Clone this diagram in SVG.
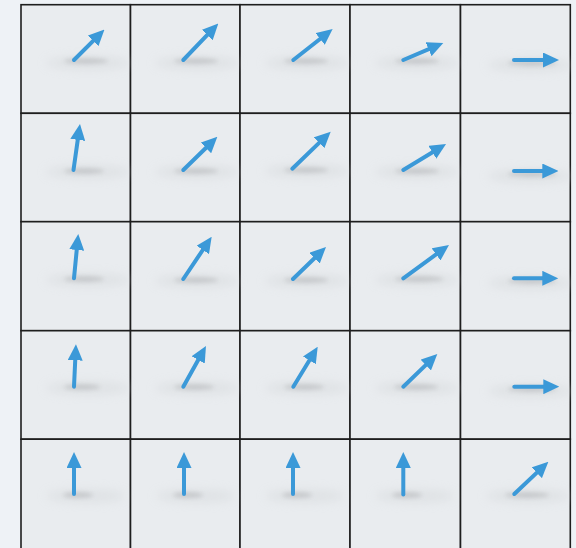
<svg xmlns="http://www.w3.org/2000/svg" width="576" height="548" viewBox="0 0 576 548">
<defs>
<style>
.cell{fill:#e9ecef;stroke:#1e1e1e;stroke-width:1.6}
.arr{stroke:#3b99d8;stroke-width:4;stroke-linecap:round;fill:none;marker-end:url(#head)}
.sh{fill:#a9abad;opacity:0.45;filter:url(#blur)}
.sh2{fill:#d6d9dc;opacity:0.5;filter:url(#blur2)}
</style>
<marker id="head" markerUnits="userSpaceOnUse" markerWidth="16" markerHeight="15" viewBox="0 0 16 15" refX="6" refY="7.5" orient="auto">
<path d="M0,0 L16,7.5 L0,15 z" fill="#3b99d8"/>
</marker>
<filter id="blur" x="-50%" y="-200%" width="200%" height="500%"><feGaussianBlur stdDeviation="2"/></filter>
<filter id="blur2" x="-50%" y="-200%" width="200%" height="500%"><feGaussianBlur stdDeviation="5"/></filter>
</defs>
<rect x="0" y="0" width="576" height="548" fill="#eef2f6"/>
<g id="grid">
<rect class="cell" x="21" y="4.7" width="109.5" height="108.6"/>
<rect class="cell" x="130.5" y="4.7" width="109.5" height="108.6"/>
<rect class="cell" x="240" y="4.7" width="110" height="108.6"/>
<rect class="cell" x="350" y="4.7" width="110.5" height="108.6"/>
<rect class="cell" x="460.5" y="4.7" width="109.8" height="108.6"/>
<rect class="cell" x="21" y="113.3" width="109.5" height="108.4"/>
<rect class="cell" x="130.5" y="113.3" width="109.5" height="108.4"/>
<rect class="cell" x="240" y="113.3" width="110" height="108.4"/>
<rect class="cell" x="350" y="113.3" width="110.5" height="108.4"/>
<rect class="cell" x="460.5" y="113.3" width="109.8" height="108.4"/>
<rect class="cell" x="21" y="221.7" width="109.5" height="109"/>
<rect class="cell" x="130.5" y="221.7" width="109.5" height="109"/>
<rect class="cell" x="240" y="221.7" width="110" height="109"/>
<rect class="cell" x="350" y="221.7" width="110.5" height="109"/>
<rect class="cell" x="460.5" y="221.7" width="109.8" height="109"/>
<rect class="cell" x="21" y="330.7" width="109.5" height="108.5"/>
<rect class="cell" x="130.5" y="330.7" width="109.5" height="108.5"/>
<rect class="cell" x="240" y="330.7" width="110" height="108.5"/>
<rect class="cell" x="350" y="330.7" width="110.5" height="108.5"/>
<rect class="cell" x="460.5" y="330.7" width="109.8" height="108.5"/>
<rect class="cell" x="21" y="439.2" width="109.5" height="110"/>
<rect class="cell" x="130.5" y="439.2" width="109.5" height="110"/>
<rect class="cell" x="240" y="439.2" width="110" height="110"/>
<rect class="cell" x="350" y="439.2" width="110.5" height="110"/>
<rect class="cell" x="460.5" y="439.2" width="109.8" height="110"/>
</g>
<g id="shadows">
<ellipse class="sh2" cx="88" cy="63" rx="42" ry="7"/><ellipse class="sh" cx="86" cy="61" rx="22" ry="3"/>
<ellipse class="sh2" cx="197" cy="63" rx="42" ry="7"/><ellipse class="sh" cx="196" cy="61" rx="22" ry="3"/>
<ellipse class="sh2" cx="307" cy="63" rx="42" ry="7"/><ellipse class="sh" cx="306" cy="61" rx="22" ry="3"/>
<ellipse class="sh2" cx="417" cy="63" rx="42" ry="7"/><ellipse class="sh" cx="417" cy="61" rx="22" ry="3"/>
<ellipse class="sh2" cx="530" cy="65" rx="42" ry="7"/><ellipse class="sh" cx="532" cy="63" rx="24" ry="3"/>
<ellipse class="sh2" cx="88" cy="172" rx="42" ry="7"/><ellipse class="sh" cx="84" cy="171" rx="20" ry="3"/>
<ellipse class="sh2" cx="197" cy="172" rx="42" ry="7"/><ellipse class="sh" cx="196" cy="171" rx="22" ry="3"/>
<ellipse class="sh2" cx="307" cy="171" rx="42" ry="7"/><ellipse class="sh" cx="306" cy="170" rx="22" ry="3"/>
<ellipse class="sh2" cx="417" cy="172" rx="42" ry="7"/><ellipse class="sh" cx="417" cy="171" rx="22" ry="3"/>
<ellipse class="sh2" cx="530" cy="176" rx="42" ry="7"/><ellipse class="sh" cx="532" cy="174" rx="24" ry="3"/>
<ellipse class="sh2" cx="88" cy="280" rx="42" ry="7"/><ellipse class="sh" cx="84" cy="279" rx="20" ry="3"/>
<ellipse class="sh2" cx="197" cy="281" rx="42" ry="7"/><ellipse class="sh" cx="196" cy="280" rx="22" ry="3"/>
<ellipse class="sh2" cx="307" cy="281" rx="42" ry="7"/><ellipse class="sh" cx="306" cy="280" rx="22" ry="3"/>
<ellipse class="sh2" cx="417" cy="280" rx="42" ry="7"/><ellipse class="sh" cx="419" cy="279" rx="24" ry="3"/>
<ellipse class="sh2" cx="530" cy="283" rx="42" ry="7"/><ellipse class="sh" cx="532" cy="281" rx="24" ry="3"/>
<ellipse class="sh2" cx="88" cy="388" rx="42" ry="7"/><ellipse class="sh" cx="82" cy="387" rx="18" ry="3"/>
<ellipse class="sh2" cx="197" cy="388" rx="42" ry="7"/><ellipse class="sh" cx="194" cy="387" rx="20" ry="3"/>
<ellipse class="sh2" cx="307" cy="388" rx="42" ry="7"/><ellipse class="sh" cx="304" cy="387" rx="20" ry="3"/>
<ellipse class="sh2" cx="417" cy="388" rx="42" ry="7"/><ellipse class="sh" cx="416" cy="387" rx="22" ry="3"/>
<ellipse class="sh2" cx="530" cy="391" rx="42" ry="7"/><ellipse class="sh" cx="532" cy="389" rx="24" ry="3"/>
<ellipse class="sh2" cx="86" cy="496" rx="40" ry="7"/><ellipse class="sh" cx="78" cy="495" rx="15" ry="3"/>
<ellipse class="sh2" cx="196" cy="496" rx="40" ry="7"/><ellipse class="sh" cx="188" cy="495" rx="15" ry="3"/>
<ellipse class="sh2" cx="305" cy="496" rx="40" ry="7"/><ellipse class="sh" cx="297" cy="495" rx="15" ry="3"/>
<ellipse class="sh2" cx="415" cy="496" rx="40" ry="7"/><ellipse class="sh" cx="407" cy="495" rx="15" ry="3"/>
<ellipse class="sh2" cx="528" cy="496" rx="42" ry="7"/><ellipse class="sh" cx="527" cy="495" rx="22" ry="3"/>
</g>
<g id="arrows">
<line class="arr" x1="74" y1="60" x2="97.4" y2="36.6"/>
<line class="arr" x1="183.3" y1="60" x2="211.4" y2="30.7"/>
<line class="arr" x1="293.3" y1="60" x2="324.8" y2="35.2"/>
<line class="arr" x1="403.3" y1="60" x2="434.1" y2="46.9"/>
<line class="arr" x1="514" y1="60" x2="549" y2="60"/>
<line class="arr" x1="73.5" y1="170" x2="78.6" y2="133.9"/>
<line class="arr" x1="183.3" y1="170" x2="210.2" y2="143.7"/>
<line class="arr" x1="292.3" y1="168.7" x2="323.5" y2="138.6"/>
<line class="arr" x1="403.3" y1="170" x2="437.5" y2="149.2"/>
<line class="arr" x1="514" y1="171" x2="548.3" y2="171"/>
<line class="arr" x1="74" y1="278.3" x2="77.3" y2="244"/>
<line class="arr" x1="183.3" y1="279" x2="206.1" y2="245"/>
<line class="arr" x1="293" y1="279" x2="318.8" y2="254"/>
<line class="arr" x1="403.3" y1="278.3" x2="440.9" y2="250.9"/>
<line class="arr" x1="514" y1="278.3" x2="548.3" y2="278.3"/>
<line class="arr" x1="74" y1="386.7" x2="75.5" y2="354.3"/>
<line class="arr" x1="183.3" y1="386.7" x2="201.1" y2="354.7"/>
<line class="arr" x1="293.3" y1="386.7" x2="312.5" y2="355.2"/>
<line class="arr" x1="403.3" y1="386.7" x2="430.1" y2="360.9"/>
<line class="arr" x1="514.3" y1="386.7" x2="549.3" y2="386.7"/>
<line class="arr" x1="74" y1="494" x2="74" y2="462"/>
<line class="arr" x1="184" y1="494" x2="184" y2="462"/>
<line class="arr" x1="293" y1="494" x2="293" y2="462"/>
<line class="arr" x1="403.3" y1="494.5" x2="403.3" y2="462"/>
<line class="arr" x1="514.3" y1="494" x2="541.1" y2="468.6"/>
</g>
</svg>
